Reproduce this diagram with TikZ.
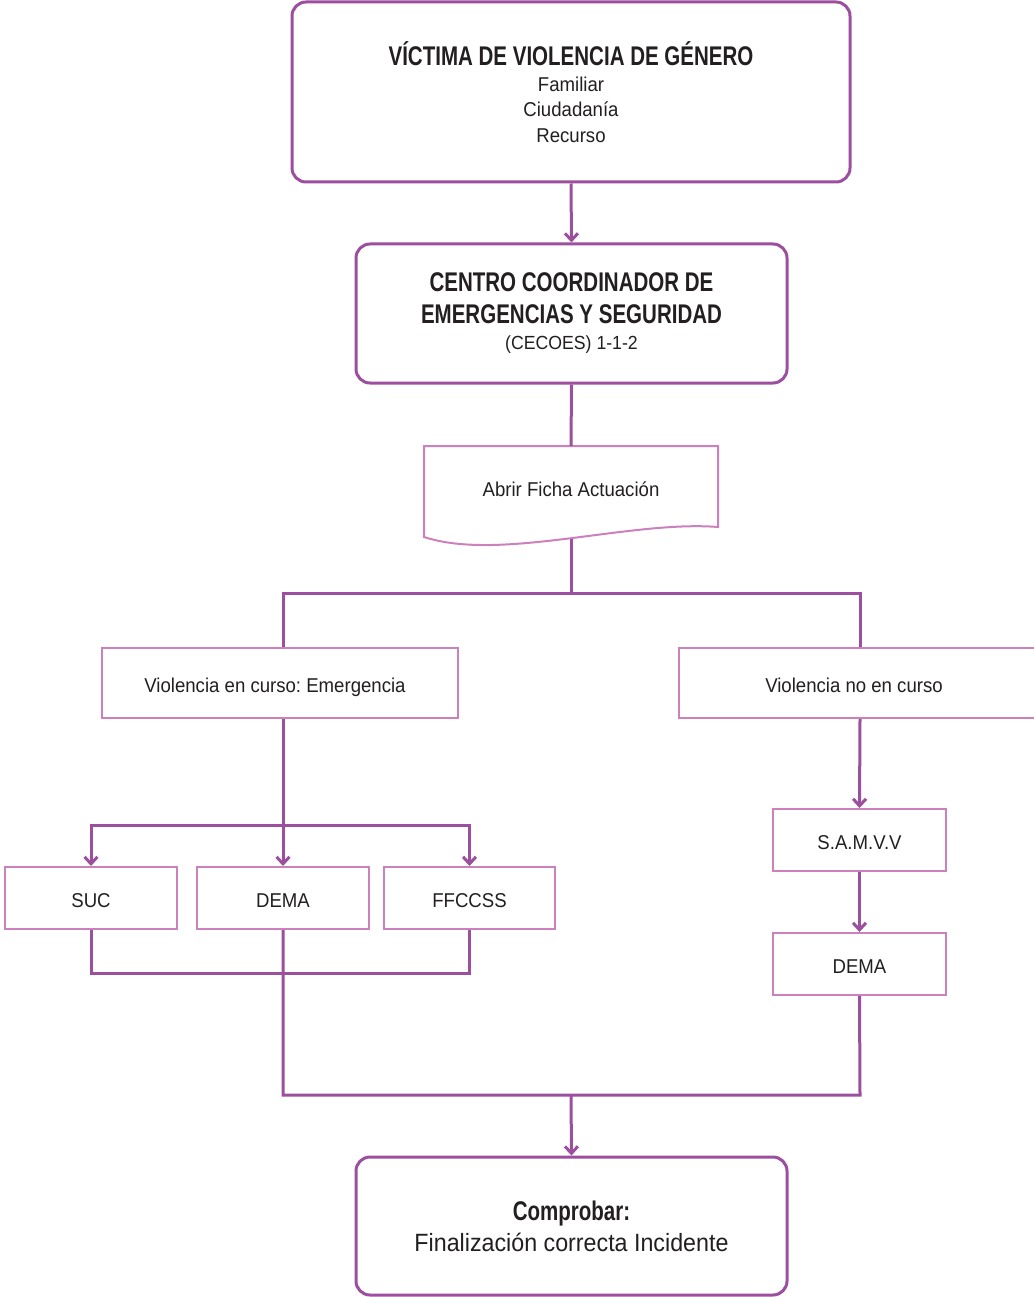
\documentclass[tikz,border=0pt]{standalone}
\usepackage{fontspec}
\setmainfont[UprightFeatures={FakeStretch=0.93}, BoldFeatures={FakeStretch=0.76}]{Liberation Sans}
\usetikzlibrary{arrows.meta}
\definecolor{lineP}{HTML}{9B4F9E}
\definecolor{boxP}{HTML}{CC80BC}
\definecolor{txt}{HTML}{231F20}
\newcommand{\ttl}{\fontsize{27}{32}\selectfont\bfseries}
\newcommand{\reg}{\fontsize{20}{25}\selectfont\mdseries}
\frenchspacing
\begin{document}
\begin{tikzpicture}[x=1pt,y=-1pt,
  mainbox/.style={draw=lineP, line width=3pt, rounded corners=14pt, fill=white, text=txt, align=center, inner sep=0pt},
  subbox/.style={draw=boxP, line width=2pt, fill=white, text=txt, align=center, inner sep=0pt,
     font=\fontsize{20}{24}\selectfont, text height=18.5pt, text depth=0pt},
  conn/.style={draw=lineP, line width=3pt},
  arr/.style={conn, -{Straight Barb[length=7pt,width=13pt,line width=3pt]}}]
\useasboundingbox (0,0) rectangle (1033,1297);

% main boxes
\node[mainbox, minimum width=558pt, minimum height=180pt, font=\fontsize{20}{25.5}\selectfont] (top) at (571,92)
  {\ttl VÍCTIMA DE VIOLENCIA DE GÉNERO\\
   \reg Familiar\\ \reg Ciudadanía\\ \reg Recurso};
\node[mainbox, minimum width=431pt, minimum height=139pt, font=\fontsize{20}{32}\selectfont] (cecoes) at (571.5,313.5)
  {\ttl CENTRO COORDINADOR DE\\ \ttl EMERGENCIAS Y SEGURIDAD\\[-6pt]
   \fontsize{19}{25}\selectfont\mdseries (CECOES) 1-1-2};
\node[mainbox, minimum width=431pt, minimum height=138pt, font=\fontsize{25}{31}\selectfont] (final) at (571.5,1226)
  {\ttl Comprobar:\\
   \fontsize{25}{30}\selectfont Finalización correcta Incidente};

% document shape
\draw[draw=boxP, line width=2pt, fill=white] (424,446) -- (718,446) -- (718,527)
  .. controls (630,520) and (500,562) .. (424,537) -- cycle;
\node[text=txt, font=\fontsize{20}{24}\selectfont] (doc) at (571,489) {Abrir Ficha Actuación};
\coordinate (docT) at (571,446);
\coordinate (docB) at (571,539);

% level boxes
\node[subbox, minimum width=356pt, minimum height=70pt] (vec) at (280,683) {\hspace*{-10pt}Violencia en curso: Emergencia};
\node[subbox, minimum width=362pt, minimum height=70pt] (vnc) at (860,683) {\hspace*{-12pt}Violencia no en curso};

\node[subbox, minimum width=172pt, minimum height=62pt] (suc) at (91,898) {SUC};
\node[subbox, minimum width=172pt, minimum height=62pt] (dema) at (283,898) {DEMA};
\node[subbox, minimum width=171pt, minimum height=62pt] (ffccss) at (469.5,898) {FFCCSS};

\node[subbox, minimum width=173pt, minimum height=62pt] (samvv) at (859.5,840) {S.A.M.V.V};
\node[subbox, minimum width=173pt, minimum height=62pt] (dema2) at (859.5,964) {DEMA};

% junction coordinates
\coordinate (jM) at (571,593);
\coordinate (jL) at (283,593);
\coordinate (jR) at (860,593);
\coordinate (sp) at (283,825);
\coordinate (jb) at (283,973);
\coordinate (jEnd) at (283,1095);
\coordinate (jEnd2) at (860,1095);
\coordinate (jMid) at (571,1095);

% connectors
\draw[arr] (top.south) -- (cecoes.north);
\draw[conn] (cecoes.south) -- (docT);
\draw[conn] (docB) -- (jM);
\draw[conn] (jL |- vec.north) -- (jL) -- (jR) -- (jR |- vnc.north);
\draw[arr] (vec.south -| dema.north) -- (dema.north);
\draw[arr] (sp) -| (suc.north);
\draw[arr] (sp) -| (ffccss.north);
\draw[conn] (suc.south) |- (jb) -| (ffccss.south);
\draw[conn] (dema.south) -- (jEnd) -- (jEnd2) -- (dema2.south);
\draw[arr] (vnc.south) -- (samvv.north);
\draw[arr] (samvv.south) -- (dema2.north);
\draw[arr] (jMid) -- (final.north);
\end{tikzpicture}
\end{document}
